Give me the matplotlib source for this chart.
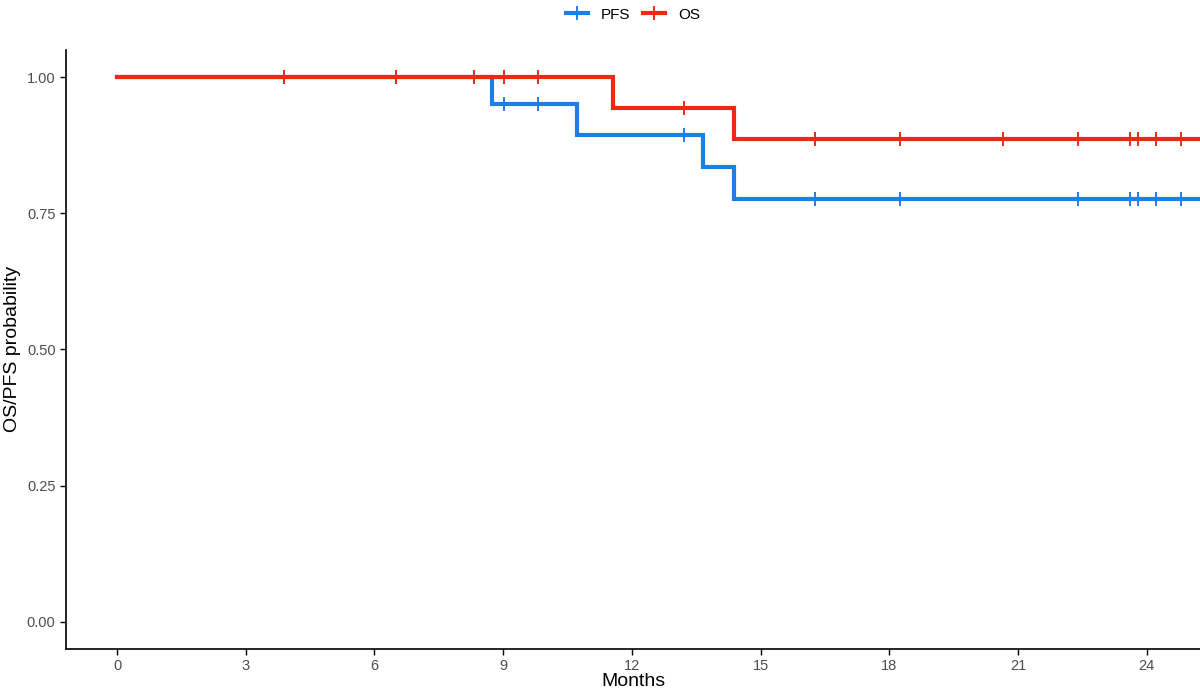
import matplotlib.pyplot as plt
import numpy as np
from matplotlib.lines import Line2D

plt.rcParams['font.family'] = ['Liberation Sans', 'DejaVu Sans']

# Kaplan-Meier steps (months, survival probability)
pfs_times = [0, 8.75, 10.73, 13.65, 14.37]
pfs_surv = [1.0, 0.950, 0.894, 0.835, 0.776]
pfs_censor = [3.90, 6.51, 8.32, 9.02, 9.81, 13.22, 16.26, 18.24,
              22.39, 23.60, 23.79, 24.22, 24.80]

os_times = [0, 11.56, 14.37]
os_surv = [1.0, 0.944, 0.886]
os_censor = [3.90, 6.51, 8.32, 9.02, 9.81, 13.22, 16.26, 18.24,
             20.65, 22.39, 23.60, 23.79, 24.22, 24.80]

end_time = 25.2

x_ticks = [0, 3, 6, 9, 12, 15, 18, 21, 24]
y_ticks = [0.00, 0.25, 0.50, 0.75, 1.00]

series = [
    ('PFS', pfs_times, pfs_surv, pfs_censor, '#1f7ee6'),
    ('OS', os_times, os_surv, os_censor, '#ec2a14'),
]

fig = plt.figure(figsize=(12, 6.94), dpi=100)
ax = fig.add_axes([0.055, 0.065, 0.945, 0.863])

for name, times, surv, censor, color in series:
    xs = list(times) + [end_time]
    ys = list(surv) + [surv[-1]]
    ax.step(xs, ys, where='post', color=color, lw=3, label=name,
            solid_joinstyle='miter')
    idx = np.searchsorted(times, censor, side='right') - 1
    cy = np.array(surv)[idx]
    ax.plot(censor, cy, ls='none', marker='|', ms=10, mew=1.4, color=color)

ax.set_xlim(-1.19, 25.24)
ax.set_ylim(-0.05, 1.05)
ax.set_xticks(x_ticks)
ax.set_xticklabels([str(t) for t in x_ticks])
ax.set_yticks(y_ticks)
ax.set_yticklabels(['%.2f' % t for t in y_ticks])
ax.tick_params(axis='both', labelsize=10.5, labelcolor='#4d4d4d',
               length=4, width=1, color='black')
ax.spines['top'].set_visible(False)
ax.spines['right'].set_visible(False)
ax.spines['left'].set_linewidth(1.2)
ax.spines['bottom'].set_linewidth(1.2)
ax.set_xlabel('Months', fontsize=14, labelpad=0)
ax.set_ylabel('OS/PFS probability', fontsize=14, labelpad=4)

# legend centred over the panel, like ggplot's top legend
handles = [Line2D([], [], color=c, lw=3, marker='|', ms=10, mew=1.4)
           for _, _, _, _, c in series]
fig.legend(handles, [s[0] for s in series], loc='center',
           bbox_to_anchor=(0.5275, 0.979), ncol=2, frameon=False,
           fontsize=11, handlelength=1.45, columnspacing=0.85,
           handletextpad=0.85)

fig.savefig('out.png', dpi=100, facecolor='white')
